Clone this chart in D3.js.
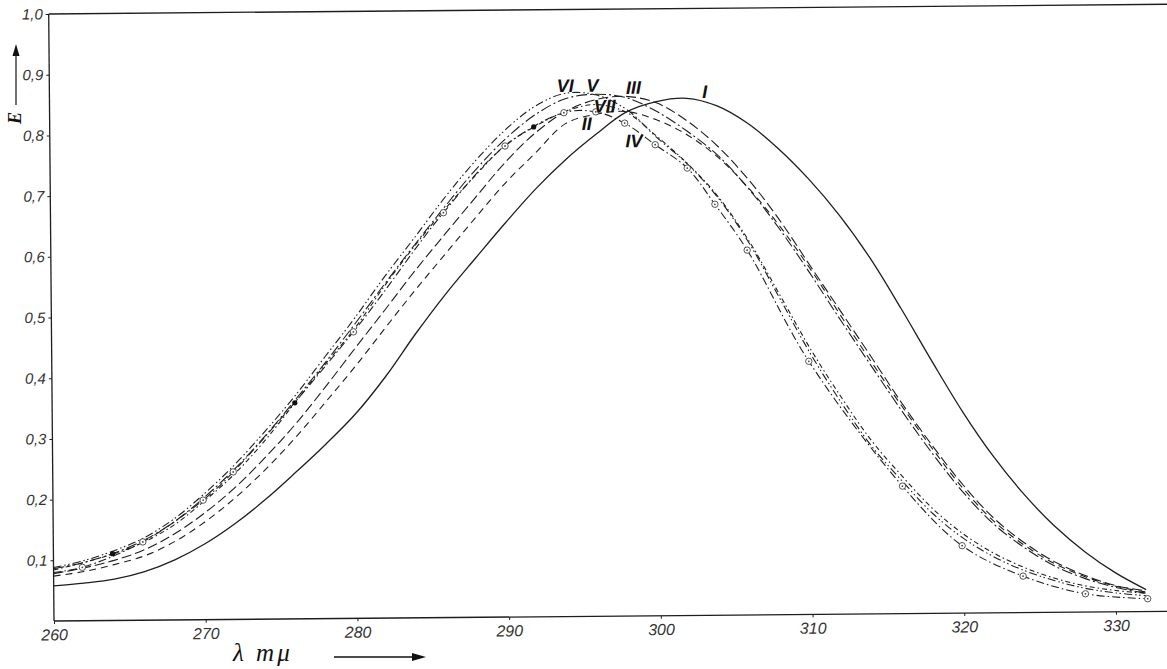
<!DOCTYPE html>
<html><head><meta charset="utf-8">
<script src="https://cdn.jsdelivr.net/npm/d3@7"></script>
<style>body{margin:0;background:#fff}svg{display:block}</style>
</head><body>
<svg id="c" width="1167" height="669"></svg>
<script>
// ---- data (λ in mμ, extinction E) ----
const wavelengths = [260,262,264,266,268,270,272,274,276,278,280,282,284,286,288,290,292,294,296,298,300,302,304,306,308,310,312,314,316,318,320,322,324,326,328,330,332];
const curveI   = [.058,.062,.068,.080,.099,.125,.158,.197,.241,.287,.337,.398,.468,.533,.592,.650,.705,.753,.794,.830,.847,.852,.839,.810,.768,.717,.657,.586,.503,.416,.332,.258,.195,.142,.099,.064,.036];
const curveII  = [.074,.081,.092,.106,.129,.161,.200,.246,.298,.356,.415,.478,.540,.599,.658,.715,.764,.812,.827,.831,.817,.792,.755,.704,.642,.571,.493,.416,.342,.271,.205,.151,.111,.080,.058,.042,.032];
const curveIII = [.078,.087,.099,.116,.142,.176,.217,.266,.320,.381,.445,.508,.572,.632,.691,.749,.797,.832,.851,.856,.845,.815,.773,.718,.652,.576,.500,.424,.347,.276,.211,.156,.115,.083,.060,.043,.034];
const curveV   = [.086,.096,.111,.132,.162,.202,.248,.301,.360,.421,.485,.551,.615,.677,.736,.787,.827,.853,.860,.854,.831,.798,.758,.703,.637,.563,.485,.409,.334,.263,.199,.146,.107,.076,.055,.040,.030];
const curveVI  = [.088,.099,.115,.136,.167,.208,.255,.309,.367,.431,.495,.563,.627,.692,.751,.802,.841,.862,.859,.835,.788,.744,.688,.614,.522,.430,.349,.276,.218,.164,.123,.092,.069,.052,.039,.031,.026];
const curveVII = [.084,.096,.110,.129,.157,.196,.240,.294,.356,.418,.478,.548,.613,.673,.727,.777,.808,.832,.843,.830,.790,.745,.690,.617,.528,.438,.358,.285,.226,.172,.130,.098,.074,.056,.043,.035,.030];
// curve IV: measured points (open circles)
const curveIVWavelengths = [260,261.9,265.9,269.9,271.9,279.9,285.9,290.0,293.9,296.0,297.9,299.9,302.0,303.8,305.9,309.9,316.0,319.9,323.9,328.0,332.1];
const curveIV  = [.080,.088,.129,.197,.243,.472,.667,.776,.830,.831,.812,.776,.737,.677,.601,.417,.210,.111,.060,.030,.021];
// measured points on curve VII (filled dots)
const dotWavelengths = [263.9,276.0,291.9];
const dotValues = [.110,.356,.807];
// curve labels
const labelNames = ["I","II","III","IV","V","VI","VII"];
const labelWavelengths = [303.2,295.4,298.5,298.5,295.8,294.0,296.6];
const labelValues = [.862,.811,.870,.782,.874,.874,.840];
// ticks
const xTicks = [260,270,280,290,300,310,320,330];
const xTickLabels = ["260","270","280","290","300","310","320","330"];
const yTicks = [0.1,0.2,0.3,0.4,0.5,0.6,0.7,0.8,0.9,1.0];
const yTickLabels = ["0,1","0,2","0,3","0,4","0,5","0,6","0,7","0,8","0,9","1,0"];

// ---- drawing ----
const svg = d3.select('#c');
const x = d3.scaleLinear().domain([260,330]).range([54,1116]);
const y = d3.scaleLinear().domain([0,1]).range([621,14]);
const ink = '#1e1e1e';
const g = svg.append('g').attr('transform','rotate(-0.5,54,621)');

// frame lines
g.append('line').attr('x1',x(260)).attr('y1',y(0)).attr('x2',x(333.8)).attr('y2',y(0)).attr('stroke',ink).attr('stroke-width',1.3);
g.append('line').attr('x1',x(260)).attr('y1',y(0)).attr('x2',x(260)).attr('y2',y(1)).attr('stroke',ink).attr('stroke-width',1.3);
g.append('line').attr('x1',x(260)).attr('y1',y(1)).attr('x2',x(333.8)).attr('y2',y(1)).attr('stroke',ink).attr('stroke-width',1.3);

const tickFont = "'Liberation Sans Narrow','Liberation Sans',sans-serif";
const xa = g.append('g').attr('transform',`translate(0,${y(0)})`)
  .call(d3.axisBottom(x).tickValues(xTicks).tickFormat((d,i)=>xTickLabels[i]).tickSize(3).tickPadding(5));
xa.select('.domain').remove();
xa.selectAll('line').attr('stroke',ink);
xa.selectAll('text').attr('font-family',tickFont).attr('font-style','italic').attr('font-size',16).attr('fill','#333');

const ya = g.append('g').attr('transform',`translate(${x(260)},0)`)
  .call(d3.axisLeft(y).tickValues(yTicks).tickFormat((d,i)=>yTickLabels[i]).tickSize(3).tickPadding(3));
ya.select('.domain').remove();
ya.selectAll('line').attr('stroke',ink);
ya.selectAll('text').attr('font-family',tickFont).attr('font-style','italic').attr('font-size',15).attr('fill','#333');

// curves
const line = d3.line().x(d=>x(d[0])).y(d=>y(d[1])).curve(d3.curveCatmullRom.alpha(0.5));
const series = [
  {v:curveI,   dash:null,                 w:1.3},
  {v:curveII,  dash:'7,5',                w:1.1},
  {v:curveIII, dash:'10,4',               w:1.1},
  {v:curveV,   dash:'11,3,2,3',           w:1.1},
  {v:curveVI,  dash:'8,3,1.5,2.5,1.5,3',  w:1.1},
  {v:curveVII, dash:'5,3,1.5,3',          w:1.1}
];
series.forEach(s=>{
  const pts = wavelengths.map((w,i)=>[w,s.v[i]]);
  g.append('path').attr('d',line(pts)).attr('fill','none').attr('stroke',ink)
   .attr('stroke-width',s.w).attr('stroke-dasharray',s.dash);
});
const ivPts = curveIVWavelengths.map((w,i)=>[w,curveIV[i]]);
g.append('path').attr('d',line(ivPts)).attr('fill','none').attr('stroke',ink)
  .attr('stroke-width',1.1).attr('stroke-dasharray','8,3,1.5,3');

// open circle markers on IV
const mk = g.append('g');
ivPts.slice(1).forEach(p=>{
  mk.append('circle').attr('cx',x(p[0])).attr('cy',y(p[1])).attr('r',3.2)
    .attr('fill','#fff').attr('stroke','#444').attr('stroke-width',0.9);
  mk.append('circle').attr('cx',x(p[0])).attr('cy',y(p[1])).attr('r',0.9).attr('fill','#444');
});
// filled dots on VII
dotWavelengths.forEach((w,i)=>{
  mk.append('circle').attr('cx',x(w)).attr('cy',y(dotValues[i])).attr('r',2.6).attr('fill','#111');
});

// curve labels
labelNames.forEach((n,i)=>{
  g.append('text').attr('x',x(labelWavelengths[i])).attr('y',y(labelValues[i]))
   .attr('text-anchor','middle').attr('dominant-baseline','central')
   .attr('font-family',"'Liberation Sans Narrow','Liberation Sans',sans-serif").attr('font-weight','bold').attr('font-style','italic')
   .attr('font-size',18).attr('fill','#111').text(n);
});

// y axis title with arrow
const ax = svg.append('g');
ax.append('text').attr('transform','translate(21,118) rotate(-90)').attr('text-anchor','middle')
  .attr('font-family',"'Liberation Serif',serif").attr('font-weight','bold').attr('font-style','italic')
  .attr('font-size',18).attr('fill','#111').text('E');
ax.append('line').attr('x1',16).attr('y1',105).attr('x2',16).attr('y2',54).attr('stroke','#111').attr('stroke-width',1.2);
ax.append('path').attr('d','M16,44 L12.5,56 L19.5,56 Z').attr('fill','#111');

// x axis title with arrow
ax.append('text').attr('x',233).attr('y',661)
  .attr('font-family',"'Liberation Serif',serif").attr('font-style','italic')
  .attr('font-size',25).attr('fill','#111').attr('letter-spacing',3).text('λ mμ');
ax.append('line').attr('x1',334).attr('y1',657).attr('x2',414).attr('y2',657).attr('stroke','#111').attr('stroke-width',1.3);
ax.append('path').attr('d','M426,657 L412,653 L412,661 Z').attr('fill','#111');
</script>
</body></html>
